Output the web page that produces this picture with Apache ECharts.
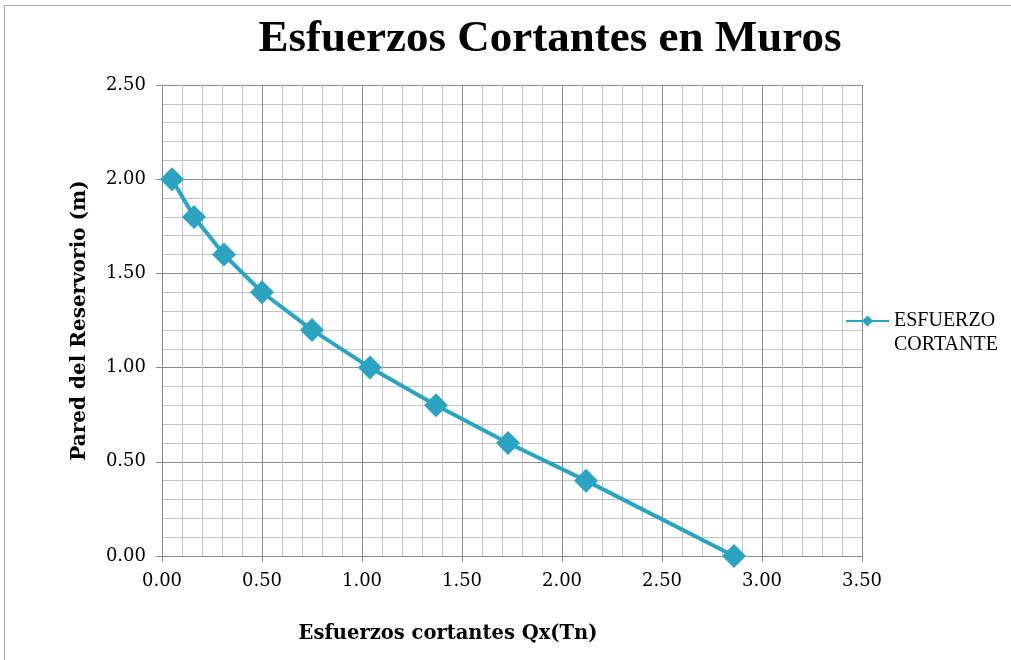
<!DOCTYPE html>
<html>
<head>
<meta charset="utf-8">
<script src="https://cdn.jsdelivr.net/npm/echarts@6/dist/echarts.min.js"></script>
<style>
  html, body { margin: 0; padding: 0; background: #fff; }
  #chart { width: 1011px; height: 660px; }
</style>
</head>
<body>
<div id="chart"></div>
<script>
// Shear force along the reservoir wall
const seriesName = 'ESFUERZO CORTANTE';
const shearQx = [0.05, 0.16, 0.31, 0.50, 0.75, 1.04, 1.37, 1.73, 2.12, 2.86]; // Tn
const wallHeight = [2.00, 1.80, 1.60, 1.40, 1.20, 1.00, 0.80, 0.60, 0.40, 0.00]; // m

const serif = '"Liberation Serif", "DejaVu Serif", serif';
const wideSerif = '"DejaVu Serif", serif';
const lineColor = '#2ca3c0';

const chart = echarts.init(document.getElementById('chart'), null, { renderer: 'canvas' });

chart.setOption({
  animation: false,
  backgroundColor: '#ffffff',
  title: [
    {
      text: 'Esfuerzos Cortantes en Muros',
      left: 545, top: 12, textAlign: 'center',
      textStyle: { fontFamily: serif, fontWeight: 'bold', fontSize: 45, color: '#000' }
    },
    {
      text: 'Esfuerzos cortantes Qx(Tn)',
      left: 443, top: 619, textAlign: 'center',
      textStyle: { fontFamily: wideSerif, fontWeight: 'bold', fontSize: 19.5, color: '#000' }
    }
  ],
  graphic: [
    {
      type: 'rect', silent: true,
      shape: { x: 4.5, y: 5.5, width: 1020, height: 670 },
      style: { fill: 'none', stroke: '#a6a6a6', lineWidth: 1 }
    }
  ],
  legend: {
    left: 840, top: 282,
    orient: 'vertical',
    itemWidth: 43, itemHeight: 14,
    formatter: () => '{gap| }\n{t|ESFUERZO}\n{t|CORTANTE}',
    textStyle: {
      fontFamily: serif, fontSize: 20, color: '#000',
      rich: {
        gap: { fontSize: 20, lineHeight: 24 },
        t: { fontFamily: serif, fontSize: 20, lineHeight: 24, color: '#000' }
      }
    },
    data: [{ name: seriesName }]
  },
  grid: { left: 162, top: 85, width: 700, height: 471, containLabel: false },
  xAxis: {
    type: 'value',
    min: 0, max: 3.5, interval: 0.5,
    axisLine: { show: true, lineStyle: { color: '#8c8c8c', width: 1 } },
    axisTick: { show: true, length: 6, lineStyle: { color: '#8c8c8c' } },
    axisLabel: {
      fontFamily: wideSerif, fontSize: 18, color: '#000', margin: 16,
      formatter: v => v.toFixed(2)
    },
    splitLine: { show: true, lineStyle: { color: '#8c8c8c', width: 1 } },
    minorTick: { show: false, splitNumber: 5 },
    minorSplitLine: { show: true, lineStyle: { color: '#c4c4c4', width: 1 } }
  },
  yAxis: {
    type: 'value',
    min: 0, max: 2.5, interval: 0.5,
    name: 'Pared del Reservorio (m)',
    nameLocation: 'middle', nameGap: 72, nameRotate: 90,
    nameTextStyle: { fontFamily: wideSerif, fontWeight: 'bold', fontSize: 20, color: '#000' },
    axisLine: { show: true, lineStyle: { color: '#8c8c8c', width: 1 } },
    axisTick: { show: true, length: 6, lineStyle: { color: '#8c8c8c' } },
    axisLabel: {
      fontFamily: wideSerif, fontSize: 18, color: '#000', margin: 16,
      formatter: v => v.toFixed(2)
    },
    splitLine: { show: true, lineStyle: { color: '#8c8c8c', width: 1 } },
    minorTick: { show: false, splitNumber: 5 },
    minorSplitLine: { show: true, lineStyle: { color: '#c4c4c4', width: 1 } }
  },
  series: [
    {
      name: seriesName,
      type: 'line',
      data: shearQx.map((q, i) => [q, wallHeight[i]]),
      symbol: 'diamond',
      symbolSize: 24,
      showAllSymbol: true,
      lineStyle: { color: lineColor, width: 4 },
      itemStyle: { color: lineColor, borderWidth: 0 },
      z: 3
    }
  ]
});
</script>
</body>
</html>
